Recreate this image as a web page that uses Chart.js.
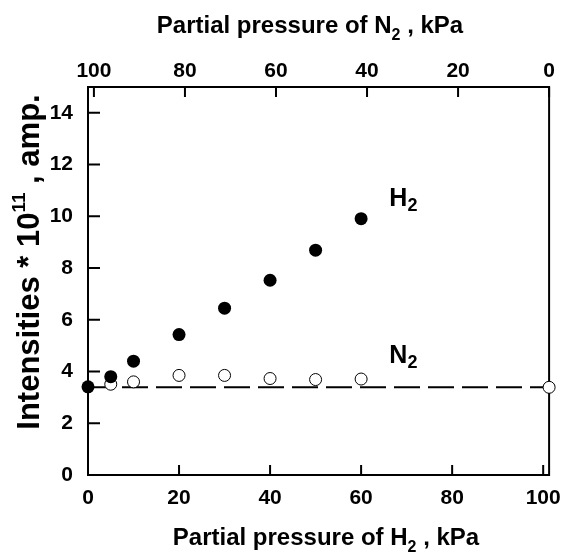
<!DOCTYPE html>
<html>
<head>
<meta charset="utf-8">
<script src="https://cdn.jsdelivr.net/npm/chart.js@4"></script>
<style>
  html, body { margin: 0; padding: 0; background: #fff; }
  #wrap { width: 572px; height: 552px; }
</style>
</head>
<body>
<div id="wrap"><canvas id="chart" width="572" height="552"></canvas></div>
<script>
// data
const h2Pressure = [0, 5, 10, 20, 30, 40, 50, 60];
const h2Intensity = [3.41, 3.80, 4.40, 5.43, 6.45, 7.53, 8.69, 9.91];
const n2Pressure = [5, 10, 20, 30, 40, 50, 60, 101.3];
const n2Intensity = [3.51, 3.60, 3.85, 3.85, 3.73, 3.69, 3.71, 3.39];
const baseX = [0, 101.3];
const baseY = [3.39, 3.39];
const xTicks = [0, 20, 40, 60, 80, 100];
const topTicks = [0, 20, 40, 60, 80, 100];
const yTicks = [0, 2, 4, 6, 8, 10, 12, 14];
const X_MAX = 101.3;
const Y_MAX = 15;

const FONT = '"Liberation Sans", Arial, sans-serif';

function pts(xs, ys) {
  return xs.map((x, i) => ({ x: x, y: ys[i] }));
}

// draw text made of pieces (for sub/superscripts)
function richText(ctx, parts, x, y, align) {
  let total = 0;
  parts.forEach(p => {
    ctx.font = 'bold ' + p.size + 'px ' + FONT;
    p.w = ctx.measureText(p.text).width;
    total += p.w;
  });
  let cx = align === 'center' ? x - total / 2 : x;
  ctx.textAlign = 'left';
  ctx.textBaseline = 'alphabetic';
  parts.forEach(p => {
    ctx.font = 'bold ' + p.size + 'px ' + FONT;
    ctx.fillText(p.text, cx, y + (p.dy || 0));
    cx += p.w;
  });
}

const framePlugin = {
  id: 'frame',
  beforeDatasetsDraw(chart) {
    const { ctx, chartArea: a, scales } = chart;
    ctx.save();
    ctx.strokeStyle = '#000';
    ctx.lineWidth = 2;
    ctx.strokeRect(a.left, a.top, a.right - a.left, a.bottom - a.top);
    ctx.beginPath();
    // inward ticks
    xTicks.forEach(v => {
      const px = scales.x.getPixelForValue(v);
      ctx.moveTo(px, a.bottom);
      ctx.lineTo(px, a.bottom - 10);
    });
    topTicks.forEach(v => {
      const px = scales.x2.getPixelForValue(v);
      ctx.moveTo(px, a.top);
      ctx.lineTo(px, a.top + 10);
    });
    yTicks.forEach(v => {
      const py = scales.y.getPixelForValue(v);
      ctx.moveTo(a.left, py);
      ctx.lineTo(a.left + 12, py);
    });
    ctx.stroke();
    ctx.restore();
  },
  afterDraw(chart) {
    const { ctx, scales } = chart;
    ctx.save();
    ctx.fillStyle = '#000';
    richText(ctx, [
      { text: 'Partial pressure of N', size: 24 },
      { text: '2', size: 16, dy: 7 },
      { text: ' , kPa', size: 24 }
    ], 310, 33, 'center');
    richText(ctx, [
      { text: 'Partial pressure of H', size: 24 },
      { text: '2', size: 16, dy: 7 },
      { text: ' , kPa', size: 24 }
    ], 326, 545, 'center');
    ctx.translate(39, 262);
    ctx.rotate(-Math.PI / 2);
    richText(ctx, [
      { text: 'Intensities * 10', size: 31 },
      { text: '11', size: 19, dy: -14 },
      { text: ' , amp.', size: 31 }
    ], 0, 0, 'center');
    ctx.restore();

    // series labels placed in data coordinates
    ctx.save();
    ctx.fillStyle = '#000';
    const lx = scales.x.getPixelForValue(66.2);
    richText(ctx, [
      { text: 'H', size: 25 },
      { text: '2', size: 18, dy: 5 }
    ], lx, scales.y.getPixelForValue(10.39), 'left');
    richText(ctx, [
      { text: 'N', size: 25 },
      { text: '2', size: 18, dy: 5 }
    ], lx, scales.y.getPixelForValue(4.32), 'left');
    ctx.restore();
  }
};

function fixTicks(list) {
  return function (scale) {
    scale.ticks = list.map(v => ({ value: v }));
  };
}

const tickFont = { family: FONT, size: 21, weight: 'bold' };

new Chart(document.getElementById('chart').getContext('2d'), {
  type: 'scatter',
  data: {
    datasets: [
      {
        label: 'H2',
        data: pts(h2Pressure, h2Intensity),
        pointRadius: 6.5,
        pointBackgroundColor: '#000',
        pointBorderColor: '#000',
        pointBorderWidth: 0,
        clip: false
      },
      {
        label: 'N2',
        data: pts(n2Pressure, n2Intensity),
        pointRadius: 6,
        pointBackgroundColor: '#fff',
        pointBorderColor: '#000',
        pointBorderWidth: 1,
        clip: false
      },
      {
        label: 'baseline',
        data: pts(baseX, baseY),
        showLine: true,
        pointRadius: 0,
        borderColor: '#000',
        borderWidth: 2,
        borderDash: [26, 8],
        clip: false
      }
    ]
  },
  options: {
    responsive: false,
    animation: false,
    events: [],
    layout: { padding: { left: 0, right: 13, top: 0, bottom: 0 } },
    plugins: {
      legend: { display: false },
      tooltip: { enabled: false }
    },
    scales: {
      x: {
        type: 'linear',
        position: 'bottom',
        min: 0,
        max: X_MAX,
        afterBuildTicks: fixTicks(xTicks),
        afterFit: s => { s.height = 77; },
        grid: { display: false, drawTicks: false },
        border: { display: false },
        ticks: { color: '#000', font: tickFont, padding: 11, maxRotation: 0 }
      },
      x2: {
        type: 'linear',
        position: 'top',
        min: 0,
        max: X_MAX,
        reverse: true,
        afterBuildTicks: fixTicks(topTicks),
        afterFit: s => { s.height = 87; },
        grid: { display: false, drawTicks: false },
        border: { display: false },
        ticks: { color: '#000', font: tickFont, padding: 3, maxRotation: 0 }
      },
      y: {
        type: 'linear',
        min: 0,
        max: Y_MAX,
        afterBuildTicks: fixTicks(yTicks),
        afterFit: s => { s.width = 88; },
        grid: { display: false, drawTicks: false },
        border: { display: false },
        ticks: { color: '#000', font: tickFont, padding: 15 }
      }
    }
  },
  plugins: [framePlugin]
});
</script>
</body>
</html>
